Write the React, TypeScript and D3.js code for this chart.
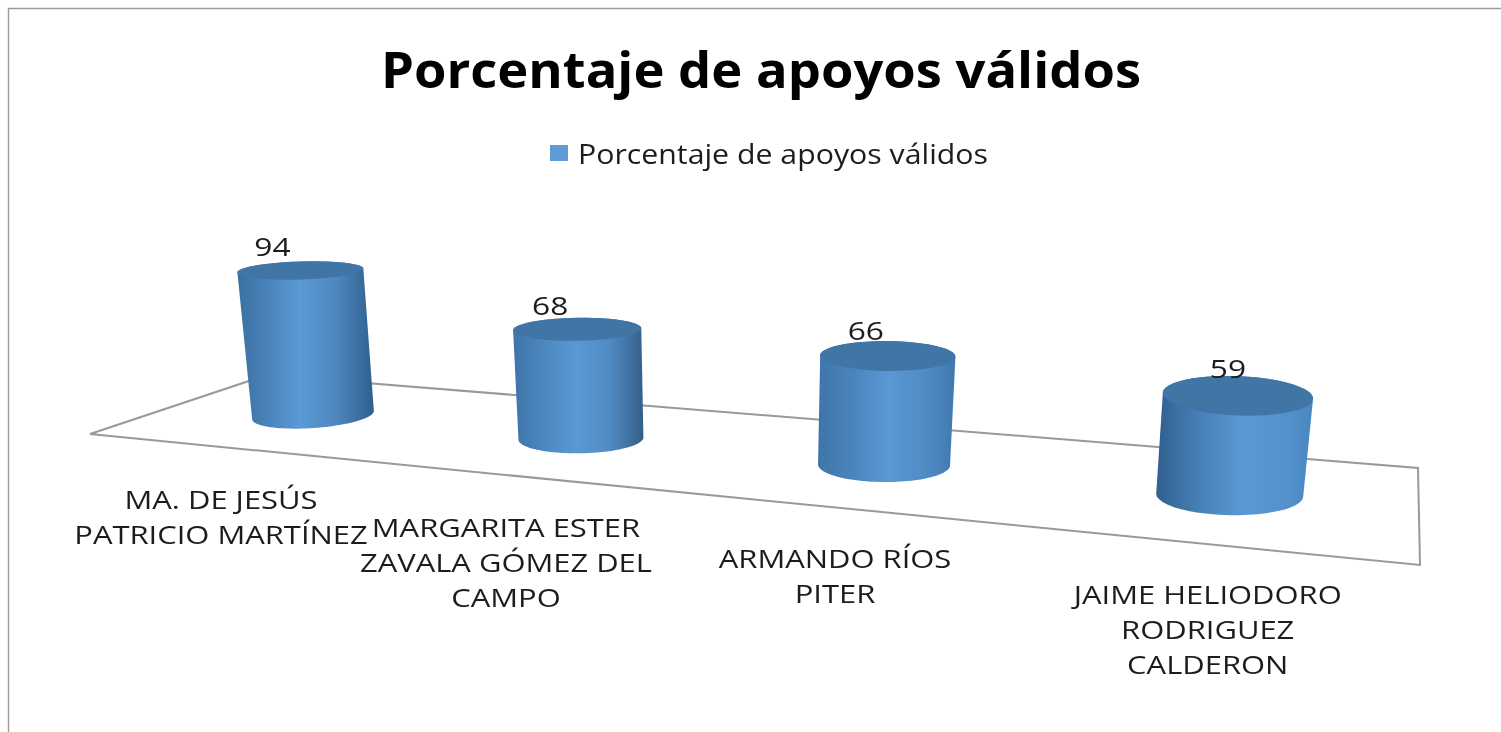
import React from "react";
import * as d3 from "d3";

const title = "Porcentaje de apoyos válidos";
const seriesName = "Porcentaje de apoyos válidos";
const candidates = [
  ["MA. DE JESÚS", "PATRICIO MARTÍNEZ"],
  ["MARGARITA ESTER", "ZAVALA GÓMEZ DEL", "CAMPO"],
  ["ARMANDO RÍOS", "PITER"],
  ["JAIME HELIODORO", "RODRIGUEZ", "CALDERON"],
];
const values = [94, 68, 66, 59];

const FONT = "'Open Sans', 'Noto Sans', sans-serif";

// perspective along the category axis
const persp = 0.058;
const depth = (i: number) => 1 / (1 - persp * i);
const xPos = (i: number) => 313 + 252.4 * i * depth(i);
const baseY = d3.scaleLinear().domain([313, 1230]).range([415, 495]);
// vertical lines converge on a far-away vanishing point
const vanish: [number, number] = [730, 4900];
const lift = d3.scaleLinear().domain([0, 100]).range([0.0054, 0.0344]);
const slot = [0, 1, 2, 3];
const topTilt = d3.scaleLinear().domain(slot).range([-0.03, -0.015, 0.01, 0.04]);
const topDx = d3.scaleLinear().domain(slot).range([1, 0, 0, -3]);
const topDy = d3.scaleLinear().domain(slot).range([2, 3, 0, 0]);
const radius = d3.scaleLinear().domain(slot).range([61, 62.5, 66, 73.5]);
const labelDx = d3.scaleLinear().domain(slot).range([-28, -27, -22, -10]);
const labelDy = d3.scaleLinear().domain(slot).range([-15, -14, -16, -18]);
const catDx = d3.scaleLinear().domain(slot).range([-92, -75, -49, -22]);

type P = [number, number];
const floor: P[] = [[90, 434], [267, 375], [1418, 468], [1420, 565]];

function ellipse(cx: number, cy: number, rx: number, ry: number, tilt: number, a0: number, a1: number, n = 48): P[] {
  return d3.range(n + 1).map((k) => {
    const a = a0 + ((a1 - a0) * k) / n;
    const px = rx * Math.cos(a), py = ry * Math.sin(a);
    return [cx + px * Math.cos(tilt) - py * Math.sin(tilt), cy + px * Math.sin(tilt) + py * Math.cos(tilt)] as P;
  });
}
const line = d3.line<P>().x((d) => d[0]).y((d) => d[1]);

const gradStops = [
  [[0, "#3a6f9f"], [0.22, "#4a83bb"], [0.45, "#5b9ad6"], [0.72, "#4f88c0"], [1, "#2f5f8c"]],
  [[0, "#3f74a8"], [0.2, "#4a84bc"], [0.48, "#5a99d5"], [0.75, "#4f8ac2"], [1, "#345f88"]],
  [[0, "#3e75aa"], [0.25, "#4a84bc"], [0.52, "#5a99d5"], [0.8, "#4f8ac4"], [1, "#3f78ae"]],
  [[0, "#2f5f8e"], [0.25, "#457db3"], [0.55, "#5a99d5"], [0.85, "#5391cc"], [1, "#4a85bd"]],
];

export default function App() {
  const cyl = values.map((v, i) => {
    const s = depth(i);
    const x = xPos(i), y = baseY(x);
    const t = lift(v);
    const tx = x + t * (x - vanish[0]) + topDx(i), ty = y + t * (y - vanish[1]) + topDy(i);
    const rx = radius(i), rxTop = rx * (1 + t);
    const ryB = 13 * Math.pow(s, 2.3), ryT = 9 * Math.pow(s, 4.1);
    const tilt = 0.03 - 0.1 / Math.pow(s, 12);
    const tiltT = topTilt(i);
    const top = ellipse(tx, ty, rxTop, ryT, tiltT, Math.PI, 3 * Math.PI);
    const upper = ellipse(tx, ty, rxTop, ryT, tiltT, Math.PI, 2 * Math.PI);
    const lower = ellipse(x, y, rx, ryB, tilt, 0, Math.PI);
    return {
      i, v, x, y, tx, ty,
      top: line(top)! + "Z",
      body: line([...upper, ...lower])! + "Z",
      x0: Math.min(tx - rxTop, x - rx),
      x1: Math.max(tx + rxTop, x + rx),
      labelX: tx + labelDx(i),
      labelY: ty + labelDy(i),
      catX: x + catDx(i),
      catY: 509 + (x - 313) * 0.104,
    };
  });

  return (
    <svg width={1501} height={732} style={{ position: "absolute", left: 0, top: 0, background: "#fff" }} fontFamily={FONT}>
      <defs>
        <filter id="soft" x="-5%" y="-5%" width="110%" height="110%">
          <feGaussianBlur stdDeviation="0.7" />
        </filter>
        {cyl.map((c) => (
          <linearGradient key={c.i} id={`g${c.i}`} gradientUnits="userSpaceOnUse" x1={c.x0} x2={c.x1} y1={0} y2={0}>
            {gradStops[c.i].map(([o, col]) => <stop key={String(o)} offset={o as number} stopColor={col as string} />)}
          </linearGradient>
        ))}
      </defs>
      <g filter="url(#soft)">
        <path d="M8.5,732V8.5H1501" fill="none" stroke="#9c9c9c" strokeWidth={1.4} />
        <path d={line(floor)! + "Z"} fill="none" stroke="#999" strokeWidth={2} />
        {cyl.map((c) => (
          <g key={c.i}>
            <path d={c.body} fill={`url(#g${c.i})`} />
            <path d={c.top} fill="#3f74a6" />
          </g>
        ))}
        <text x={761} y={88} textAnchor="middle" fontSize={50} fontWeight={700} fill="#000" textLength={760} lengthAdjust="spacingAndGlyphs">{title}</text>
        <rect x={550} y={145} width={18} height={16} fill="#5b9bd5" />
        <text x={578} y={164} fontSize={28} fill="#1c1c1c" textLength={410} lengthAdjust="spacingAndGlyphs">{seriesName}</text>
        {cyl.map((c) => (
          <text key={c.i} transform={`translate(${c.labelX},${c.labelY}) scale(1.22,1)`} textAnchor="middle" fontSize={26} fill="#1c1c1c">{c.v}</text>
        ))}
        {cyl.map((c) => (
          <text key={c.i} transform={`translate(${c.catX},${c.catY}) scale(1.19,1)`} textAnchor="middle" fontSize={26} fill="#1c1c1c">
            {candidates[c.i].map((l, k) => (
              <tspan key={k} x={0} y={k * 35}>{l}</tspan>
            ))}
          </text>
        ))}
      </g>
    </svg>
  );
}
